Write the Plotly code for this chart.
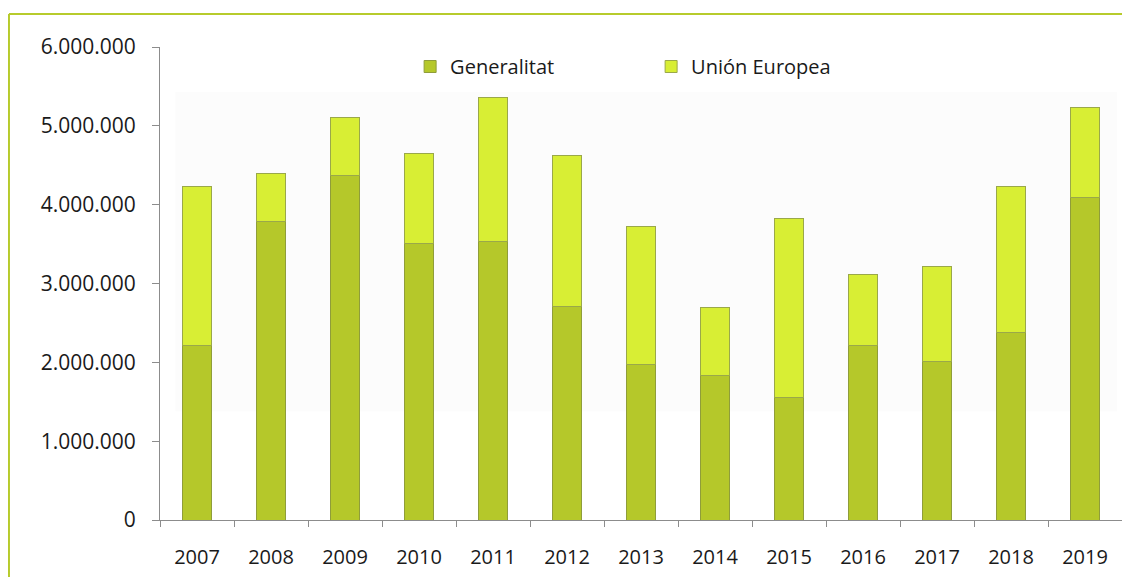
import plotly.graph_objects as go

years = ["2007", "2008", "2009", "2010", "2011", "2012", "2013",
         "2014", "2015", "2016", "2017", "2018", "2019"]
generalitat = [2210000, 3790000, 4370000, 3510000, 3530000, 2710000, 1975000,
               1835000, 1560000, 2210000, 2010000, 2376000, 4090000]
totals = [4228000, 4390000, 5100000, 4650000, 5360000, 4630000, 3720000,
          2690000, 3820000, 3120000, 3210000, 4230000, 5230000]
union_europea = [t - g for t, g in zip(totals, generalitat)]

y_ticks = [0, 1000000, 2000000, 3000000, 4000000, 5000000, 6000000]

fig = go.Figure()
fig.add_trace(go.Bar(
    x=years, y=generalitat, name="Generalitat",
    marker=dict(color="#b5c82a", line=dict(color="#8f9d3a", width=1)),
))
fig.add_trace(go.Bar(
    x=years, y=union_europea, name="Unión Europea",
    marker=dict(color="#d8ee34", line=dict(color="#9aa84a", width=1)),
))

border = "#b7cb2c"
fig.update_layout(
    width=1122, height=569,
    barmode="stack", bargap=0.595,
    separators=",.",
    paper_bgcolor="white", plot_bgcolor="white",
    margin=dict(l=152, r=8, t=39, b=57),
    font=dict(family="Open Sans, Lato, sans-serif", color="#1a1a1a"),
    legend=dict(orientation="h", x=0.26, y=1.0, xanchor="left", yanchor="top",
                font=dict(size=20, family="Open Sans, Lato, sans-serif"),
                entrywidth=196, entrywidthmode="pixels",
                bgcolor="rgba(0,0,0,0)", traceorder="normal"),
    xaxis=dict(showline=True, linecolor="#8c8c8c", linewidth=1,
               ticks="outside", ticklen=6, tickcolor="#8c8c8c",
               tickson="boundaries", showgrid=False,
               tickfont=dict(size=20), ticklabelstandoff=19),
    yaxis=dict(range=[0, 6000000], tickvals=y_ticks, tickformat=",d",
               showline=True, linecolor="#8c8c8c", linewidth=1,
               ticks="outside", ticklen=7, tickcolor="#8c8c8c",
               showgrid=False, zeroline=False,
               tickfont=dict(size=21), ticklabelstandoff=12),
    shapes=[
        dict(type="rect", xref="paper", yref="paper", x0=0.016, x1=0.995,
             y0=0.23, y1=0.905, fillcolor="#fcfcfc", line=dict(width=0), layer="below"),
        dict(type="line", xref="paper", yref="paper", x0=-0.157, x1=1.01,
             y0=1.0698, y1=1.0698, line=dict(color=border, width=2)),
        dict(type="line", xref="paper", yref="paper", x0=-0.157, x1=-0.157,
             y0=1.0698, y1=-0.13, line=dict(color=border, width=2)),
    ],
)

fig.write_html("out.html")
